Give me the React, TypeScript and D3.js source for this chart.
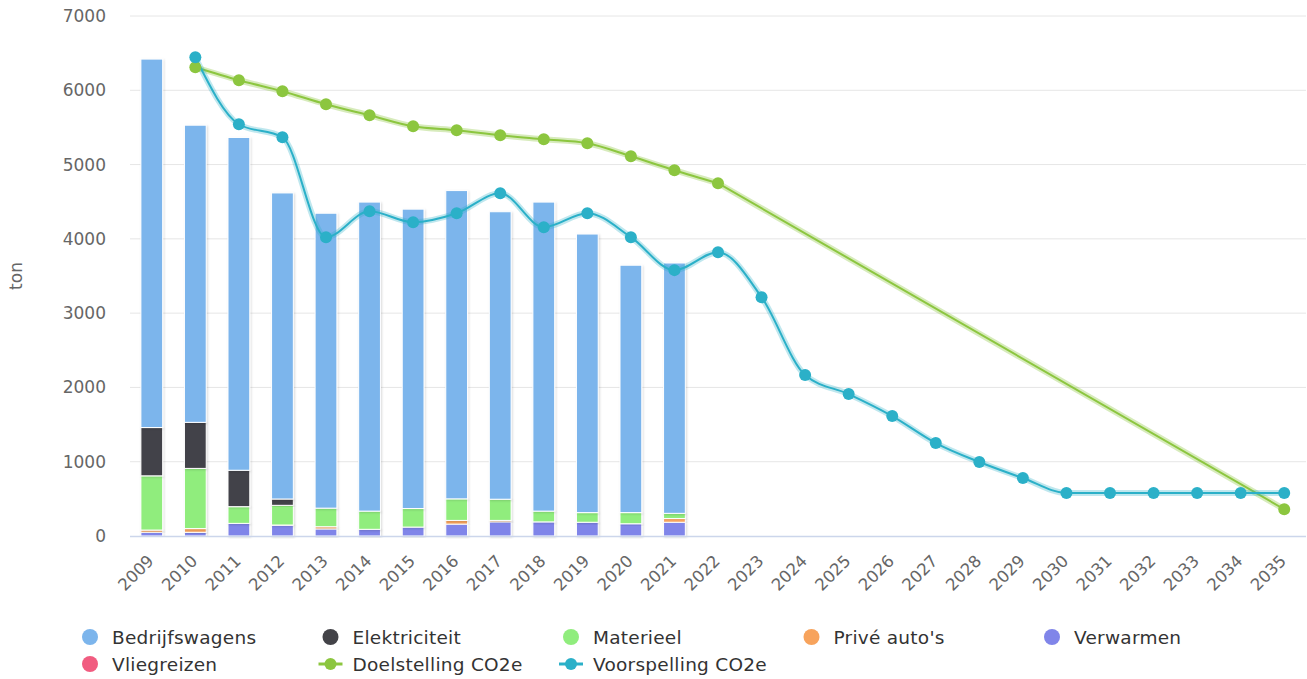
import React from "react";
import * as d3 from "d3";

const categories = ["2009","2010","2011","2012","2013","2014","2015","2016","2017","2018","2019","2020","2021","2022","2023","2024","2025","2026","2027","2028","2029","2030","2031","2032","2033","2034","2035"];

const bedrijfswagens = [4960, 4000, 4480, 4120, 3970, 4160, 4030, 4150, 3870, 4160, 3750, 3330, 3370];
const elektriciteit = [650, 620, 490, 85, 0, 0, 0, 0, 0, 0, 0, 0, 0];
const materieel = [730, 810, 225, 265, 250, 245, 250, 290, 285, 145, 130, 150, 70];
const priveAutos = [30, 50, 0, 3, 30, 0, 0, 50, 20, 0, 0, 0, 50];
const verwarmen = [50, 50, 170, 145, 95, 90, 120, 160, 190, 190, 185, 165, 185];
const vliegreizen = [0, 0, 0, 0, 0, 0, 0, 0, 0, 0, 0, 0, 0];

const doelstelling: (number | null)[] = [null, 6310, 6135, 5987, 5812, 5664, 5516, 5462, 5395, 5341, 5287, 5112, 4924, 4749, null, null, null, null, null, null, null, null, null, null, null, null, 360];
const voorspelling: (number | null)[] = [null, 6444, 5543, 5368, 4023, 4372, 4224, 4345, 4614, 4157, 4345, 4023, 3579, 3821, 3215, 2166, 1910, 1614, 1251, 996, 780, 580, 580, 580, 580, 580, 580];

const yTicks = [0, 1000, 2000, 3000, 4000, 5000, 6000, 7000];

const stackSeries = [
  { name: "Vliegreizen", values: vliegreizen, color: "#f15c80" },
  { name: "Verwarmen", values: verwarmen, color: "#8085e9" },
  { name: "Privé auto's", values: priveAutos, color: "#f7a35c" },
  { name: "Materieel", values: materieel, color: "#90ed7d" },
  { name: "Elektriciteit", values: elektriciteit, color: "#434348" },
  { name: "Bedrijfswagens", values: bedrijfswagens, color: "#7cb5ec" },
];

const legendItems = [
  { name: "Bedrijfswagens", color: "#7cb5ec", type: "bar" },
  { name: "Elektriciteit", color: "#434348", type: "bar" },
  { name: "Materieel", color: "#90ed7d", type: "bar" },
  { name: "Privé auto's", color: "#f7a35c", type: "bar" },
  { name: "Verwarmen", color: "#8085e9", type: "bar" },
  { name: "Vliegreizen", color: "#f15c80", type: "bar" },
  { name: "Doelstelling CO2e", color: "#8cc63f", type: "line" },
  { name: "Voorspelling CO2e", color: "#2bb0c8", type: "line" },
];

const W = 1307, H = 679;
const plotLeft = 130, plotRight = 1306, plotTop = 16, plotBottom = 536;
const FONT = "DejaVu Sans, Verdana, sans-serif";

export default function App() {
  const x = d3.scaleBand().domain(categories).range([plotLeft, plotRight]).padding(0);
  const y = d3.scaleLinear().domain([0, 7000]).range([plotBottom, plotTop]);
  const bw = x.bandwidth();
  const barW = bw * 0.5;
  const cx = (c: string) => (x(c) as number) + bw / 2;

  const barCats = categories.slice(0, bedrijfswagens.length);
  const rects: JSX.Element[] = [];
  barCats.forEach((c, i) => {
    let base = 0;
    stackSeries.forEach((s) => {
      const v = s.values[i];
      if (v > 0) {
        const y0 = y(base), y1 = y(base + v);
        rects.push(
          <rect key={s.name + c} x={cx(c) - barW / 2} y={y1} width={barW} height={y0 - y1}
            fill={s.color} stroke="#ffffff" strokeWidth={1} filter="url(#shadow)" />
        );
      }
      base += v;
    });
  });

  // Curve through consecutive defined points; straight bridge across nulls
  const lineGen = (vals: (number | null)[]) => {
    const runs: [number, number][][] = [];
    let cur: [number, number][] = [];
    vals.forEach((v, i) => {
      if (v == null) {
        if (cur.length) { runs.push(cur); cur = []; }
      } else cur.push([cx(categories[i]), v]);
    });
    if (cur.length) runs.push(cur);
    const gen = d3.line<[number, number]>().x((p) => p[0]).y((p) => y(p[1])).curve(d3.curveMonotoneX);
    let d = "";
    runs.forEach((r, k) => {
      const seg = r.length > 1 ? (gen(r) || "") : `M${r[0][0]},${y(r[0][1])}`;
      d += k === 0 ? seg : "L" + seg.slice(1);
    });
    return { pts: runs.flat(), d };
  };
  const green = lineGen(doelstelling);
  const teal = lineGen(voorspelling);

  return (
    <svg width={W} height={H} style={{ position: "absolute", left: 0, top: 0, fontFamily: FONT }}>
      <defs>
        <filter id="shadow" x="-20%" y="-20%" width="140%" height="140%">
          <feDropShadow dx="1" dy="1" stdDeviation="1" floodColor="#000" floodOpacity="0.15" />
        </filter>
      </defs>
      <rect width={W} height={H} fill="#ffffff" />
      {yTicks.map((t) => (
        <g key={t}>
          {t > 0 && <line x1={plotLeft} x2={plotRight} y1={y(t)} y2={y(t)} stroke="#e6e6e6" strokeWidth={1} />}
          <text x={106} y={y(t) + 6} textAnchor="end" fontSize={17} fill="#666666">{t}</text>
        </g>
      ))}
      <text transform={`translate(22,${(plotTop + plotBottom) / 2}) rotate(-90)`} textAnchor="middle" fontSize={17} fill="#666666">ton</text>
      {rects}
      <line x1={plotLeft} x2={plotRight} y1={plotBottom + 0.5} y2={plotBottom + 0.5} stroke="#ccd6eb" strokeWidth={1.5} />
      {categories.map((c) => (
        <text key={c} transform={`translate(${cx(c) + 3},${plotBottom + 26}) rotate(-45)`} textAnchor="end" fontSize={16.5} fill="#666666">{c}</text>
      ))}
      <path d={green.d} fill="none" stroke="#8cc63f" strokeOpacity={0.35} strokeWidth={6} />
      <path d={green.d} fill="none" stroke="#8cc63f" strokeWidth={2} />
      <path d={teal.d} fill="none" stroke="#2bb0c8" strokeOpacity={0.3} strokeWidth={6} />
      <path d={teal.d} fill="none" stroke="#2bb0c8" strokeWidth={2} />
      {green.pts.map((p, i) => <circle key={"g" + i} cx={p[0]} cy={y(p[1])} r={6} fill="#8cc63f" />)}
      {teal.pts.map((p, i) => <circle key={"t" + i} cx={p[0]} cy={y(p[1])} r={6} fill="#2bb0c8" />)}
      {legendItems.map((it, i) => {
        const col = i % 5, row = Math.floor(i / 5);
        const lx = 90 + col * 240.5, ly = 637 + row * 27;
        return (
          <g key={it.name}>
            {it.type === "bar" ? (
              <circle cx={lx} cy={ly} r={8} fill={it.color} />
            ) : (
              <g>
                <line x1={lx - 12} x2={lx + 12} y1={ly} y2={ly} stroke={it.color} strokeWidth={3} />
                <circle cx={lx} cy={ly} r={6} fill={it.color} />
              </g>
            )}
            <text x={lx + 22} y={ly + 7} fontSize={18.5} letterSpacing={0.25} fill="#333333">{it.name}</text>
          </g>
        );
      })}
    </svg>
  );
}
